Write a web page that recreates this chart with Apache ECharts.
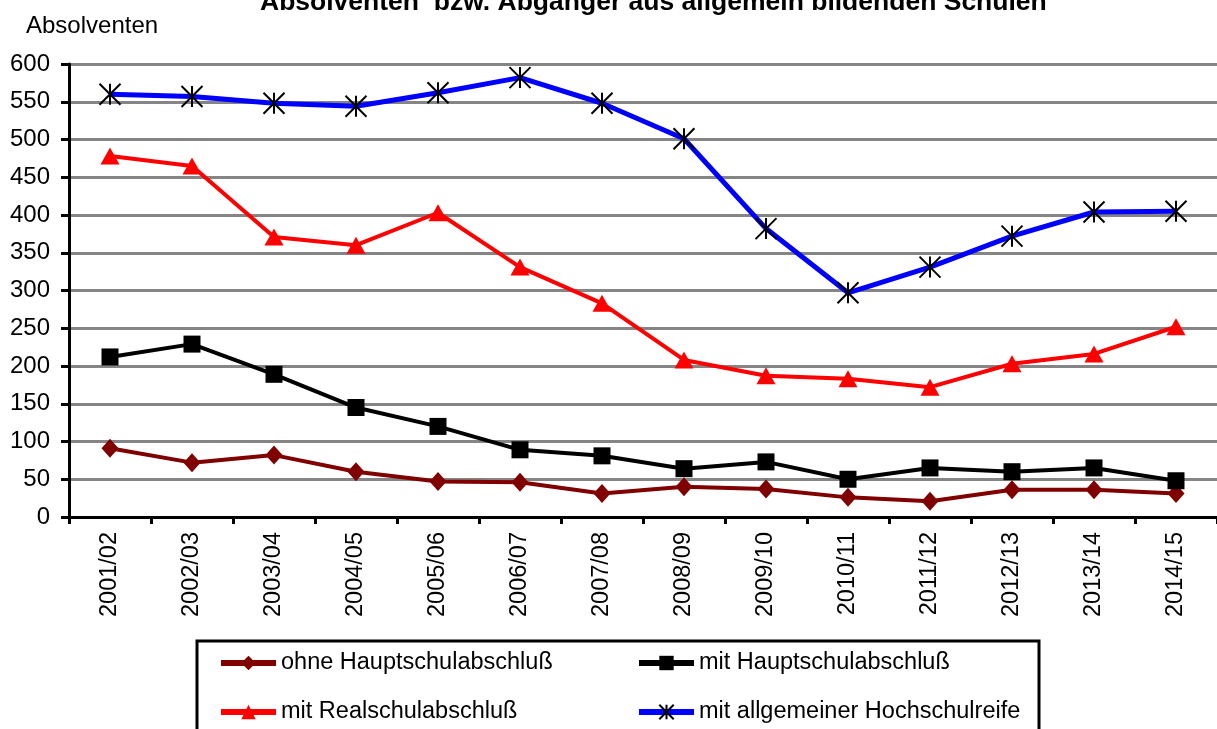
<!DOCTYPE html>
<html>
<head>
<meta charset="utf-8">
<script src="https://cdn.jsdelivr.net/npm/echarts@6/dist/echarts.min.js"></script>
<style>
html, body { margin: 0; padding: 0; background: #fff; }
#chart { width: 1217px; height: 729px; }
</style>
</head>
<body>
<div id="chart"></div>
<script>
var years = ['2001/02', '2002/03', '2003/04', '2004/05', '2005/06', '2006/07', '2007/08',
    '2008/09', '2009/10', '2010/11', '2011/12', '2012/13', '2013/14', '2014/15'];

var ohneHaupt = [91, 72, 82, 60, 47, 46, 31, 40, 37, 26, 21, 36, 36, 31];
var mitHaupt = [212, 229, 189, 145, 120, 89, 81, 64, 73, 50, 65, 60, 65, 48];
var mitReal = [478, 465, 371, 360, 403, 331, 283, 208, 187, 183, 172, 203, 216, 252];
var mitAbitur = [560, 557, 548, 544, 562, 582, 548, 501, 382, 297, 331, 372, 404, 405];

var seriesNames = ['ohne Hauptschulabschluß', 'mit Hauptschulabschluß',
    'mit Realschulabschluß', 'mit allgemeiner Hochschulreife'];

var font = '"Liberation Sans", Arial, sans-serif';
var asterisk = 'path://M0,0L10,10M10,0L0,10M5,0L5,10';

var chart = echarts.init(document.getElementById('chart'));

// one legend per entry so the two columns line up like the original
function legendAt(name, left, top) {
    return {
        data: [name],
        left: left,
        top: top,
        padding: 0,
        itemWidth: 55,
        itemHeight: 18,
        itemGap: 0,
        selectedMode: false,
        lineStyle: { width: 6 },
        textStyle: { fontFamily: font, fontSize: 23.5, color: '#000' }
    };
}

var option = {
    animation: false,
    backgroundColor: '#fff',
    title: [{
        text: 'Absolventen  bzw. Abgänger aus allgemein bildenden Schulen',
        left: 255,
        top: -16,
        textStyle: { fontFamily: font, fontSize: 26.5, fontWeight: 'bold', color: '#000' }
    }, {
        text: 'Absolventen',
        left: 21,
        top: 9,
        textStyle: { fontFamily: font, fontSize: 24, fontWeight: 'normal', color: '#000' }
    }],
    legend: [
        legendAt(seriesNames[0], 218, 651),
        legendAt(seriesNames[1], 636, 651),
        legendAt(seriesNames[2], 218, 700),
        legendAt(seriesNames[3], 636, 700)
    ],
    graphic: [{
        type: 'rect',
        shape: { x: 197, y: 641, width: 842, height: 100 },
        style: { fill: 'none', stroke: '#000', lineWidth: 3 }
    }],
    grid: { left: 69, right: 0, top: 64, bottom: 212 },
    xAxis: {
        type: 'category',
        data: years,
        boundaryGap: true,
        axisLine: { lineStyle: { color: '#000', width: 3 } },
        axisTick: { show: true, length: 7, lineStyle: { color: '#000', width: 3 } },
        axisLabel: { rotate: 90, margin: 15, fontFamily: font, fontSize: 23.5, color: '#000' }
    },
    yAxis: {
        type: 'value',
        min: 0,
        max: 600,
        interval: 50,
        axisLine: { show: true, lineStyle: { color: '#000', width: 3 } },
        axisTick: { show: true, length: 8, lineStyle: { color: '#000', width: 3 } },
        axisLabel: { margin: 19, fontFamily: font, fontSize: 24, color: '#000' },
        splitLine: { lineStyle: { color: '#858585', width: 3 } }
    },
    series: [{
        name: seriesNames[0],
        type: 'line',
        data: ohneHaupt,
        symbol: 'diamond',
        symbolSize: [17, 19],
        lineStyle: { color: '#800000', width: 4 },
        itemStyle: { color: '#800000' }
    }, {
        name: seriesNames[1],
        type: 'line',
        data: mitHaupt,
        symbol: 'rect',
        symbolSize: 17,
        lineStyle: { color: '#000', width: 4 },
        itemStyle: { color: '#000' }
    }, {
        name: seriesNames[2],
        type: 'line',
        data: mitReal,
        symbol: 'triangle',
        symbolSize: [19, 17],
        lineStyle: { color: '#ff0000', width: 4 },
        itemStyle: { color: '#ff0000' }
    }, {
        name: seriesNames[3],
        type: 'line',
        data: mitAbitur,
        symbol: asterisk,
        symbolSize: 21,
        lineStyle: { color: '#0000ff', width: 5 },
        itemStyle: { color: 'rgba(0,0,0,0)', borderColor: '#000', borderWidth: 2 }
    }]
};

chart.setOption(option);
</script>
</body>
</html>
